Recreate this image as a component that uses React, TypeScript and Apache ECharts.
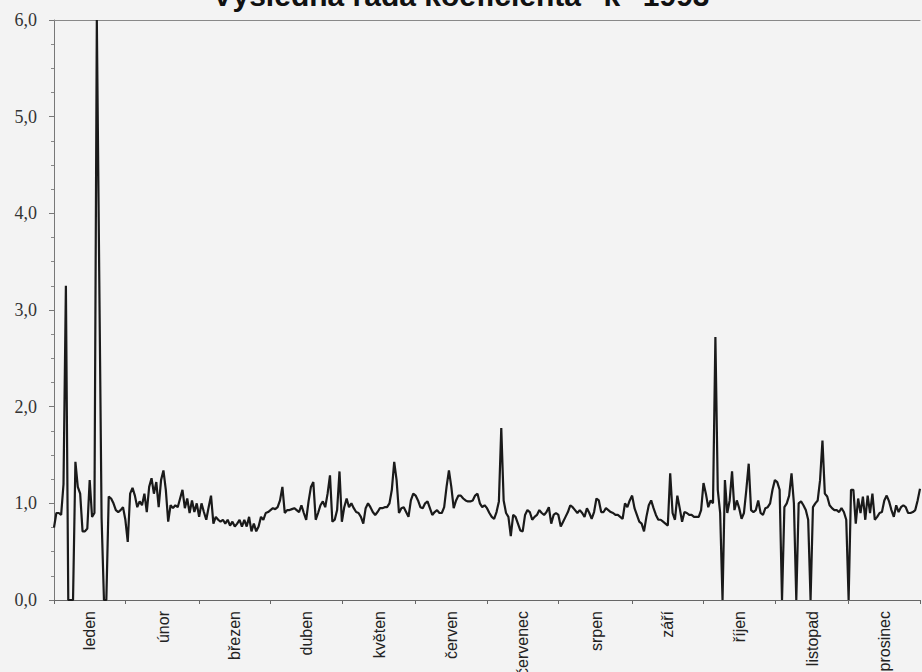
import React, { useEffect, useRef } from "react";
import * as echarts from "echarts";

const title = "Výsledná řada koeficienta \"k\" 1993";

const monthNames = [
  "leden", "únor", "březen", "duben", "květen", "červen",
  "červenec", "srpen", "září", "říjen", "listopad", "prosinec",
];

const yTickLabels = ["0,0", "1,0", "2,0", "3,0", "4,0", "5,0", "6,0"];

const jan = [0.75, 0.9, 0.9, 0.88, 1.2, 3.25, 0, 0, 0, 1.43, 1.17, 1.1, 0.71, 0.71, 0.74, 1.24, 0.86, 0.9, 6.0, 3.4, 0.85, 0, 0, 1.07, 1.05, 1.0, 0.93, 0.91, 0.93, 0.96, 0.83];
const feb = [0.6, 1.1, 1.16, 1.08, 0.96, 1.02, 0.98, 1.1, 0.91, 1.17, 1.26, 1.1, 1.22, 0.96, 1.24, 1.34, 1.14, 0.81, 0.98, 0.95, 0.98, 0.96, 1.05, 1.14, 0.95, 1.05, 0.9, 1.03];
const mar = [0.91, 1.0, 0.86, 1.0, 0.91, 0.83, 0.96, 1.08, 0.79, 0.86, 0.83, 0.81, 0.83, 0.79, 0.83, 0.77, 0.81, 0.76, 0.79, 0.83, 0.76, 0.83, 0.76, 0.86, 0.71, 0.79, 0.71, 0.76, 0.86, 0.83, 0.9];
const apr = [0.91, 0.93, 0.95, 0.94, 0.96, 1.03, 1.17, 0.9, 0.93, 0.93, 0.94, 0.95, 0.93, 0.91, 0.98, 0.9, 0.83, 1.02, 1.17, 1.22, 0.83, 0.9, 0.98, 1.02, 0.96, 1.1, 1.29, 0.81, 0.83, 0.93];
const may = [1.33, 0.81, 0.96, 1.05, 0.96, 1.0, 0.95, 0.91, 0.9, 0.86, 0.79, 0.95, 1.0, 0.96, 0.91, 0.88, 0.91, 0.95, 0.95, 0.96, 0.96, 1.0, 1.14, 1.43, 1.24, 0.9, 0.95, 0.96, 0.91, 0.86, 1.03];
const jun = [1.1, 1.08, 1.03, 0.96, 0.95, 1.0, 1.02, 0.95, 0.88, 0.91, 0.93, 0.9, 0.9, 0.96, 1.17, 1.34, 1.17, 0.95, 1.03, 1.08, 1.08, 1.05, 1.03, 1.02, 1.02, 1.03, 1.08, 1.1, 1.0, 0.96];
const jul = [0.98, 0.95, 0.9, 0.86, 0.84, 0.91, 1.02, 1.78, 1.03, 0.9, 0.86, 0.66, 0.88, 0.86, 0.79, 0.72, 0.71, 0.88, 0.93, 0.91, 0.83, 0.86, 0.88, 0.93, 0.9, 0.88, 0.91, 0.96, 0.79, 0.88, 0.9];
const aug = [0.88, 0.76, 0.81, 0.86, 0.91, 0.98, 0.96, 0.93, 0.9, 0.93, 0.9, 0.86, 0.95, 0.9, 0.84, 0.91, 1.05, 1.03, 0.91, 0.91, 0.95, 0.93, 0.91, 0.9, 0.88, 0.88, 0.86, 0.84, 1.0, 0.96, 1.03];
const sep = [1.08, 0.95, 0.88, 0.81, 0.79, 0.71, 0.86, 0.98, 1.03, 0.95, 0.88, 0.83, 0.83, 0.81, 0.79, 0.77, 1.31, 0.9, 0.83, 1.08, 0.95, 0.81, 0.91, 0.9, 0.88, 0.88, 0.86, 0.86, 0.86, 0.93];
const oct = [1.21, 1.1, 0.96, 1.03, 1.0, 2.72, 1.14, 0.9, 0, 1.24, 0.9, 1.03, 1.33, 0.93, 1.03, 0.95, 0.84, 0.9, 1.14, 1.41, 0.93, 0.91, 0.93, 1.03, 0.9, 0.88, 0.95, 0.96, 1.0, 1.14, 1.24];
const nov = [1.22, 1.14, 0, 0.96, 1.0, 1.08, 1.31, 1.0, 0, 1.0, 1.02, 0.98, 0.93, 0.83, 0, 0.96, 1.0, 1.03, 1.24, 1.65, 1.1, 1.07, 0.98, 0.95, 0.93, 0.93, 0.91, 0.95, 0.91, 0.83];
const dec = [0, 1.14, 1.14, 0.79, 1.05, 0.9, 1.07, 0.83, 1.08, 0.9, 1.1, 0.83, 0.86, 0.9, 0.91, 1.03, 1.08, 1.02, 0.93, 0.86, 0.98, 0.91, 0.96, 0.98, 0.96, 0.9, 0.9, 0.91, 0.93, 1.03, 1.15];

export default function App() {
  const ref = useRef<HTMLDivElement>(null);

  useEffect(() => {
    if (!ref.current) return;
    const chart = echarts.init(ref.current, null, { renderer: "svg" });

    const values = [...jan, ...feb, ...mar, ...apr, ...may, ...jun, ...jul, ...aug, ...sep, ...oct, ...nov, ...dec];
    const n = values.length;
    const days = values.map((_, i) => "d" + i);
    const step = (n - 1) / 12;
    const tickIdx = new Set<number>();
    for (let k = 0; k <= 12; k++) tickIdx.add(Math.round(k * step));
    const labelIdx = new Map<number, string>();
    monthNames.forEach((m, k) => labelIdx.set(Math.round((k + 0.5) * step), m));

    chart.setOption({
      animation: false,
      backgroundColor: "#f3f3f3",
      title: {
        text: title,
        left: "center",
        top: -25,
        textStyle: {
          fontFamily: "Liberation Sans",
          fontWeight: "bold",
          fontSize: 30,
          color: "#111",
        },
      },
      grid: { left: 54, right: 2, top: 20, bottom: 72, outerBoundsMode: "none", containLabel: false },
      xAxis: [
        {
          type: "category",
          data: days,
          boundaryGap: false,
          axisLine: { show: true, lineStyle: { color: "#666", width: 1 } },
          axisTick: {
            show: true,
            length: 4,
            interval: (i: number) => tickIdx.has(i),
            lineStyle: { color: "#666" },
          },
          axisLabel: {
            show: true,
            rotate: 90,
            margin: 11,
            interval: (i: number) => labelIdx.has(i),
            formatter: (_v: string, i: number) => labelIdx.get(i) ?? "",
            fontFamily: "Liberation Sans",
            fontSize: 16,
            color: "#222",
          },
          splitLine: { show: false },
        },
        {
          type: "value",
          position: "top",
          min: 0,
          max: 1,
          axisLine: { show: true, onZero: false, lineStyle: { color: "#888", width: 1 } },
          axisTick: { show: false },
          axisLabel: { show: false },
          splitLine: { show: false },
        },
      ],
      yAxis: {
        type: "value",
        min: 0,
        max: 6,
        interval: 1,
        axisLine: { show: true, lineStyle: { color: "#777", width: 1 } },
        axisTick: { show: true, length: 5, lineStyle: { color: "#777" } },
        minorTick: { show: true, splitNumber: 4, length: 3, lineStyle: { color: "#888" } },
        axisLabel: {
          margin: 17,
          fontFamily: "Liberation Serif",
          fontSize: 18,
          color: "#333",
          formatter: (v: number) => yTickLabels[Math.round(v)] ?? "",
        },
        splitLine: { show: false },
      },
      series: [
        {
          type: "line",
          data: values,
          xAxisIndex: 0,
          symbol: "none",
          lineStyle: { color: "#1a1a1a", width: 2.2 },
          clip: true,
        },
      ],
    });

    return () => chart.dispose();
  }, []);

  return (
    <div
      ref={ref}
      style={{ position: "fixed", left: 0, top: 0, width: 922, height: 672 }}
    />
  );
}
